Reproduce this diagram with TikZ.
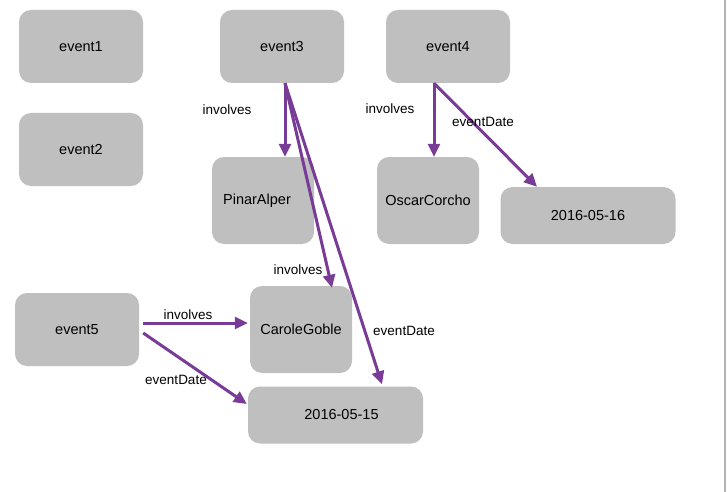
\documentclass[tikz,border=0pt]{standalone}
\usepackage{fontspec}
\setmainfont{Liberation Sans}
\usetikzlibrary{arrows.meta}
\definecolor{boxgray}{RGB}{191,191,191}
\definecolor{edgepurple}{RGB}{121,60,150}
\definecolor{scrollgray}{RGB}{178,178,178}
\tikzset{
  box/.style={fill=boxgray, rounded corners=12pt, inner sep=0pt, font=\fontsize{14.5}{17}\selectfont},
  evbox/.style={box, minimum width=124pt, minimum height=73pt},
  personbox/.style={box, minimum width=102pt, minimum height=87pt},
  datebox/.style={box, minimum width=175pt, minimum height=57pt},
  rel/.style={draw=edgepurple, line width=3pt, -{Triangle[length=13pt,width=12pt]}},
  lbl/.style={font=\fontsize{13.5}{16}\selectfont, inner sep=0pt}
}
\begin{document}
\begin{tikzpicture}[x=1pt,y=-1pt]
\useasboundingbox[fill=white] (0,0) rectangle (728,492);
\draw[scrollgray, line width=1.2pt] (725,0) -- (725,492);

\node[evbox] (e1) at (81,46.5) {event1};
\node[evbox] (e2) at (81,149.5) {event2};
\node[evbox] (e3) at (282,46.5) {event3};
\node[evbox] (e4) at (448,46.5) {event4};
\node[evbox] (e5) at (77,329.5) {event5};
\node[personbox] (pa) at (263,200.5) {\raisebox{-2pt}{\hspace*{-12pt}PinarAlper}};
\node[personbox] (oc) at (428,200.5) {OscarCorcho};
\node[personbox] (cg) at (301,329.5) {CaroleGoble};
\node[datebox] (d16) at (588,215.5) {2016-05-16};
\node[datebox] (d15) at (335.5,415) {\hspace*{12pt}2016-05-15};

\draw[rel] ([shift={(3,0)}]e3.south) -- ([shift={(22,0)}]pa.north);
\draw[rel] ([shift={(3,0)}]e3.south) -- ([shift={(31,2)}]cg.north);
\draw[rel] ([shift={(3,0)}]e3.south) -- ([shift={(46.5,-2)}]d15.north);
\draw[rel] ([shift={(-14,0)}]e4.south) -- ([shift={(6,0)}]oc.north);
\draw[rel] ([shift={(-14,0)}]e4.south) -- ([shift={(-51,0)}]d16.north);
\draw[rel] ([shift={(4,-6.5)}]e5.east) -- ([shift={(-2,-6.5)}]cg.west);
\draw[rel] ([shift={(4,3.5)}]e5.east) -- ([shift={(-1,-11)}]d15.west);

\node[lbl] (l1) at (227,110) {involves};
\node[lbl] (l2) at (298,270) {involves};
\node[lbl] (l3) at (404,331) {eventDate};
\node[lbl] (l4) at (390,109) {involves};
\node[lbl] (l5) at (483,122) {eventDate};
\node[lbl] (l6) at (188,315) {involves};
\node[lbl] (l7) at (176,380) {eventDate};
\end{tikzpicture}
\end{document}
